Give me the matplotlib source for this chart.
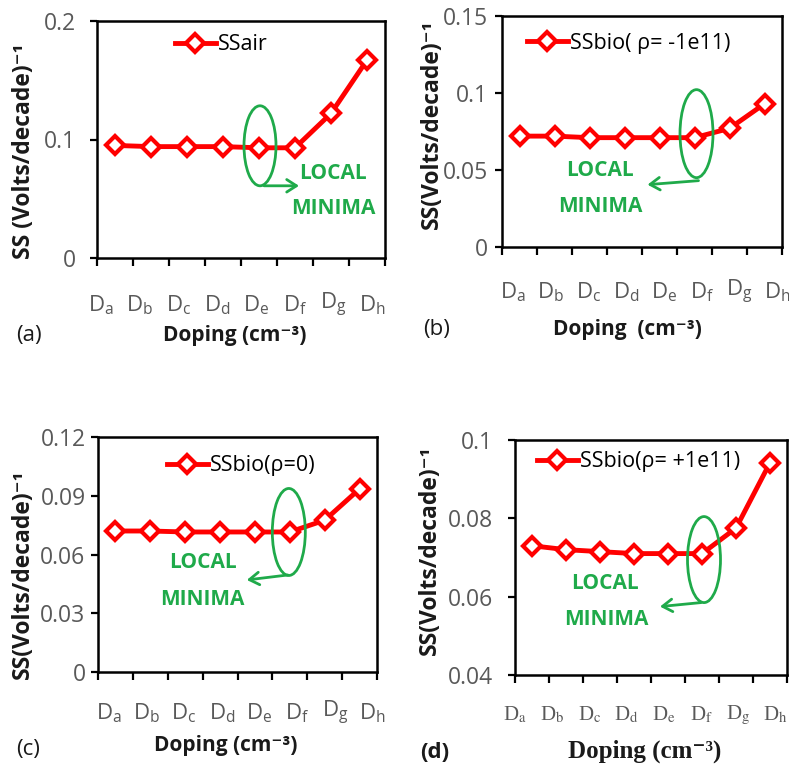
import numpy as np
import matplotlib
matplotlib.use("Agg")
import matplotlib.pyplot as plt
from matplotlib.patches import Ellipse
from matplotlib.transforms import ScaledTranslation

# ---------------- data ----------------
categories = ["a", "b", "c", "d", "e", "f", "g", "h"]   # D_a ... D_h

ss_air = [0.095, 0.094, 0.094, 0.094, 0.093, 0.093, 0.122, 0.167]
ss_bio_neg = [0.072, 0.072, 0.071, 0.071, 0.071, 0.071, 0.077, 0.093]
ss_bio_zero = [0.072, 0.072, 0.0715, 0.0715, 0.0715, 0.0715, 0.0775, 0.0935]
ss_bio_pos = [0.073, 0.072, 0.0715, 0.071, 0.071, 0.071, 0.0775, 0.0942]

legend_labels = ["SSair", "SSbio( ρ= -1e11)", "SSbio(ρ=0)", "SSbio(ρ= +1e11)"]
ylabels = ["SS (Volts/decade)⁻¹", "SS(Volts/decade)⁻¹",
           "SS(Volts/decade)⁻¹", "SS(Volts/decade)⁻¹"]
xlabels = ["Doping (cm⁻³)", "Doping  (cm⁻³)", "Doping (cm⁻³)", "Doping (cm⁻³)"]
panel_tags = ["(a)", "(b)", "(c)", "(d)"]
yticks_list = [[0, 0.1, 0.2], [0, 0.05, 0.1, 0.15],
               [0, 0.03, 0.06, 0.09, 0.12], [0.04, 0.06, 0.08, 0.1]]
minima_index = [4, 5, 5, 5]

# ---------------- style ----------------
W, H = 789, 768
DPI = 100
RED = "#FF0000"
GREEN = "#1FAA4A"
GRAY = "#595959"
SANS = ["Open Sans", "DejaVu Sans"]
SERIF = ["Liberation Serif", "DejaVu Serif"]

plt.rcParams["mathtext.fontset"] = "custom"
plt.rcParams["mathtext.rm"] = "Open Sans"
plt.rcParams["mathtext.it"] = "Open Sans:italic"
plt.rcParams["mathtext.bf"] = "Open Sans:bold"
plt.rcParams["font.family"] = SANS

fig = plt.figure(figsize=(W / DPI, H / DPI), dpi=DPI)

# axes boxes in pixels: left, top, right, bottom
boxes = [(97, 21, 385, 258), (502, 16, 782, 247),
         (98, 437, 377, 672), (515, 440, 787, 675)]
ytick_pad = [10, 5, 4, 11]
dlab_start = [-0.39, -0.18, -0.19, -0.5]
dlab_step = [1.077, 1.077, 1.08, 1.095]
dlab_drop = [47, 45, 41, 40]
legend_anchor = [(175, 45), (527, 43), (167, 466), (537, 462)]
ylabel_pos = [(24, 151), (432, 124), (23, 574), (430, 550)]
xlabel_pos = [(235, 336), (627, 329), (226, 746), (645, 751)]
tag_pos = [(29, 336), (437, 330), (28, 749), (435, 752)]
# annotation layout, pixel offsets from the highlighted point (y down)
ann = [
    dict(ell=(1, -2, 32, 80), arr=((5, 38), (40, 38)), local=(74, 26), minima=(74, 61)),
    dict(ell=(2, -4, 33, 88), arr=((4, 43), (-47, 47)), local=(-95, 33), minima=(-94, 69)),
    dict(ell=(-1, 0, 33, 87), arr=((-2, 43), (-43, 48)), local=(-87, 31), minima=(-88, 68)),
    dict(ell=(2, 6, 33, 86), arr=((-1, 49), (-42, 53)), local=(-97, 30), minima=(-96, 66)),
]

series = [ss_air, ss_bio_neg, ss_bio_zero, ss_bio_pos]
x = np.arange(len(categories))

for k in range(4):
    l, t, r, b = boxes[k]
    ax = fig.add_axes([l / W, 1 - b / H, (r - l) / W, (b - t) / H])
    serif_panel = (k == 3)
    yt = yticks_list[k]
    ax.plot(x, series[k], color=RED, lw=3.5, marker="D", ms=9.5,
            mfc="white", mec=RED, mew=3.0, label=legend_labels[k], zorder=3)
    ax.set_xlim(-0.5, len(categories) - 0.5)
    ax.set_ylim(yt[0], yt[-1])
    ax.set_yticks(yt)
    ax.set_yticklabels(["%g" % v for v in yt])
    ax.set_xticks(np.arange(len(categories) + 1) - 0.5)
    ax.set_xticklabels([])
    for s in ax.spines.values():
        s.set_linewidth(1.8)
        s.set_color("black")
    ax.tick_params(axis="y", direction="out", length=5, width=1.6,
                   pad=ytick_pad[k], labelsize=16.5, labelcolor=GRAY)
    ax.tick_params(axis="x", direction="out", length=5.5, width=1.6)

    # category labels D_a ... D_h
    for i, c in enumerate(categories):
        xp = dlab_start[k] + i * dlab_step[k]
        kw = dict(xy=(xp, 0), xycoords=("data", "axes fraction"),
                  xytext=(0, -dlab_drop[k]), textcoords="offset pixels",
                  ha="center", va="center", color=GRAY, annotation_clip=False)
        if serif_panel:
            ax.annotate("D$_{\\mathrm{%s}}$" % c, fontsize=15, family=SERIF,
                        math_fontfamily="stix", **kw)
        else:
            ax.annotate("D$_{\\mathrm{%s}}$" % c, fontsize=16, **kw)

    # legend
    lx, ly = legend_anchor[k]
    ax.legend(loc="center left",
              bbox_to_anchor=((lx - l) / (r - l), (b - ly) / (b - t)),
              frameon=False, handlelength=1.9, handletextpad=0.1,
              borderpad=0, borderaxespad=0, numpoints=1,
              prop={"family": SANS, "size": 15.5})

    # local minima annotation
    idx = minima_index[k]
    a = ann[k]
    base = ScaledTranslation(x[idx], series[k][idx], ax.transData)
    tr = fig.dpi_scale_trans + base
    ex, ey, ew, eh = a["ell"]
    ax.add_patch(Ellipse((ex / DPI, -ey / DPI), ew / DPI, eh / DPI,
                         transform=tr, fill=False, ec=GREEN, lw=2, zorder=4,
                         clip_on=False))
    (x0, y0), (x1, y1) = a["arr"]
    ax.annotate("", xy=(x1 / DPI, -y1 / DPI), xycoords=tr,
                xytext=(x0 / DPI, -y0 / DPI), textcoords=tr,
                arrowprops=dict(arrowstyle="->,head_length=0.7,head_width=0.45",
                                color=GREEN, lw=2, shrinkA=0, shrinkB=0),
                annotation_clip=False)
    for key, txt in (("local", "LOCAL"), ("minima", "MINIMA")):
        tx, ty = a[key]
        ax.text(tx / DPI, -ty / DPI, txt, transform=tr, ha="center", va="center",
                fontsize=15, fontweight="bold", color=GREEN, family=SANS)

    # axis titles and panel tag
    yx, yy = ylabel_pos[k]
    fig.text(yx / W, 1 - yy / H, ylabels[k], rotation=90, ha="center", va="center",
             fontsize=16.5, fontweight="bold", color="#1a1a1a", family=SANS)
    xx, xy_ = xlabel_pos[k]
    if serif_panel:
        fig.text(xx / W, 1 - xy_ / H, xlabels[k], ha="center", va="center",
                 fontsize=18, fontweight="bold", color="#1a1a1a",
                 family=SERIF)
    else:
        fig.text(xx / W, 1 - xy_ / H, xlabels[k], ha="center", va="center",
                 fontsize=15, fontweight="bold", color="#1a1a1a", family=SANS)
    px, py = tag_pos[k]
    fig.text(px / W, 1 - py / H, panel_tags[k], ha="center", va="center",
             fontsize=16, color="#1a1a1a",
             fontweight="bold" if serif_panel else "normal", family=SANS)

fig.savefig("out.png", dpi=DPI)
